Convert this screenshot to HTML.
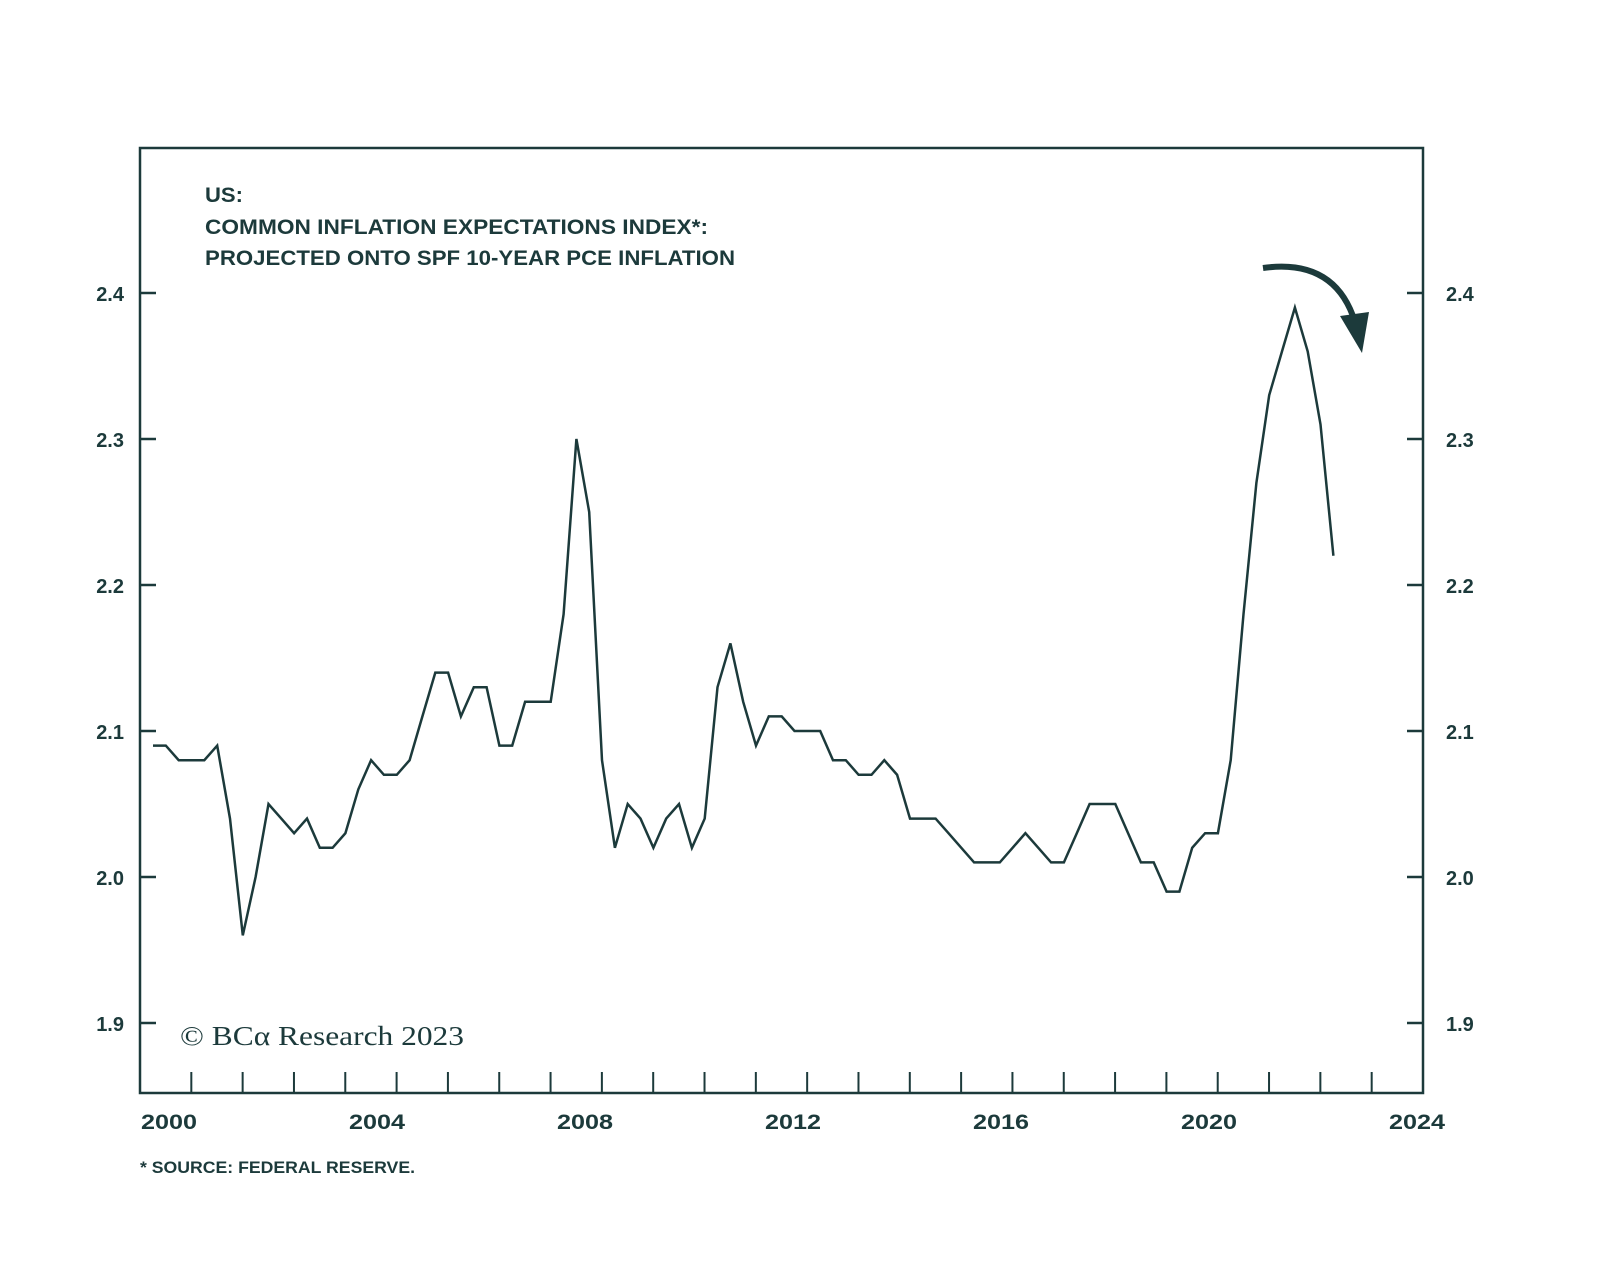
<!DOCTYPE html>
<html><head><meta charset="utf-8"><style>
html,body{margin:0;padding:0;background:#fff;}
svg{display:block;}
</style></head><body>
<svg id="chart" width="1600" height="1275" viewBox="0 0 1600 1275" xmlns="http://www.w3.org/2000/svg" font-family="Liberation Sans, sans-serif" fill="#1c3a3b">
<rect x="140" y="148" width="1283" height="945" fill="none" stroke="#1c3a3b" stroke-width="2.5"/>
<g font-weight="bold" font-size="21" fill="#1c3a3b">
<text x="205" y="202" textLength="38" lengthAdjust="spacingAndGlyphs">US:</text>
<text x="205" y="234" textLength="503" lengthAdjust="spacingAndGlyphs">COMMON INFLATION EXPECTATIONS INDEX*:</text>
<text x="205" y="265" textLength="530" lengthAdjust="spacingAndGlyphs">PROJECTED ONTO SPF 10-YEAR PCE INFLATION</text>
</g>
<g id="yticks"></g>
<g id="xticks"></g>
<path id="series" fill="none" stroke="#1c3a3b" stroke-width="2.5" stroke-linejoin="miter"/>
<path d="M1263,268 Q1335,258 1355,322" fill="none" stroke="#1c3a3b" stroke-width="6"/>
<polygon points="1340,316 1369,312 1362,353" fill="#1c3a3b"/>
<text x="180" y="1045" font-family="Liberation Serif, serif" font-size="27" textLength="284" lengthAdjust="spacingAndGlyphs">© BCα Research 2023</text>
<text x="140" y="1173" font-weight="bold" font-size="17" textLength="275" lengthAdjust="spacingAndGlyphs">* SOURCE: FEDERAL RESERVE.</text>
</svg>
<script>
const yTicks=[1.9,2.0,2.1,2.2,2.3,2.4];
const yTickLabels=["1.9","2.0","2.1","2.2","2.3","2.4"];
const xLabelYears=[2000,2004,2008,2012,2016,2020,2024];
const startYear=1999.5;
const values=[2.09,2.09,2.08,2.08,2.08,2.09,2.04,1.96,2.00,2.05,2.04,2.03,2.04,2.02,2.02,2.03,2.06,2.08,2.07,2.07,2.08,2.11,2.14,2.14,2.11,2.13,2.13,2.09,2.09,2.12,2.12,2.12,2.18,2.30,2.25,2.08,2.02,2.05,2.04,2.02,2.04,2.05,2.02,2.04,2.13,2.16,2.12,2.09,2.11,2.11,2.10,2.10,2.10,2.08,2.08,2.07,2.07,2.08,2.07,2.04,2.04,2.04,2.03,2.02,2.01,2.01,2.01,2.02,2.03,2.02,2.01,2.01,2.03,2.05,2.05,2.05,2.03,2.01,2.01,1.99,1.99,2.02,2.03,2.03,2.08,2.18,2.27,2.33,2.36,2.39,2.36,2.31,2.22];
const NS='http://www.w3.org/2000/svg';
function yS(v){return 293+(2.4-v)*1460;}
function xS(t){return 153+(t-startYear)*51.32;}
const yg=document.getElementById('yticks');
yTicks.forEach((v,i)=>{
  const y=yS(v);
  const l=document.createElementNS(NS,'path');
  l.setAttribute('d',`M140,${y}H156M1407,${y}H1423`);
  l.setAttribute('stroke','#1c3a3b');l.setAttribute('stroke-width','2.5');
  
  
  yg.appendChild(l);
  const a=document.createElementNS(NS,'text');
  a.setAttribute('x','124');a.setAttribute('y',y+8);a.setAttribute('text-anchor','end');
  a.setAttribute('font-weight','bold');a.setAttribute('font-size','20');
  a.textContent=yTickLabels[i];
  
  
  yg.appendChild(a);
  const b=document.createElementNS(NS,'text');
  b.setAttribute('x','1446');b.setAttribute('y',y+8);
  b.setAttribute('font-weight','bold');b.setAttribute('font-size','20');
  b.textContent=yTickLabels[i];
  
  
  yg.appendChild(b);
});
const xg=document.getElementById('xticks');
let d='';
for(let k=1;k<25;k++){const x=140+k*51.32;d+=`M${x},1072V1093`;}
const tp=document.createElementNS(NS,'path');
tp.setAttribute('d',d);tp.setAttribute('stroke','#1c3a3b');tp.setAttribute('stroke-width','2');


xg.appendChild(tp);
xLabelYears.forEach(yr=>{
  const t=document.createElementNS(NS,'text');
  t.setAttribute('x',169+(yr-2000)*52);t.setAttribute('y','1129');t.setAttribute('text-anchor','middle');
  t.setAttribute('font-weight','bold');t.setAttribute('font-size','21');
  t.setAttribute('textLength','56');t.setAttribute('lengthAdjust','spacingAndGlyphs');
  t.textContent=yr;
  
  
  xg.appendChild(t);
});
document.getElementById('series').setAttribute('d',values.map((v,i)=>(i?'L':'M')+xS(startYear+i*0.25).toFixed(1)+','+yS(v).toFixed(1)).join(''));
</script>
</body></html>
